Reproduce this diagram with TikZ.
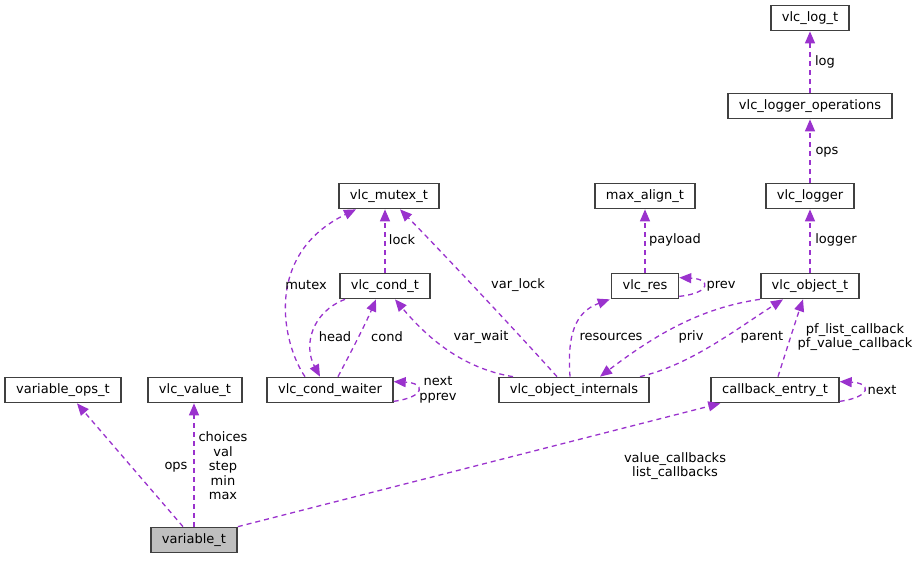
\documentclass[tikz,border=0pt]{standalone}
\usepackage{fontspec}
\setmainfont{DejaVu Sans}
\usetikzlibrary{arrows.meta}
\definecolor{edgecol}{HTML}{9A32CD}
\definecolor{boxline}{HTML}{404040}

\begin{document}
\begin{tikzpicture}[
		x=1pt, y=-1pt,
		font=\fontsize{13}{15}\selectfont,
		cls/.style = {
			rectangle,
			draw=boxline,
			line width=1.7pt,
			minimum height=25pt,
			inner xsep=11pt,
			inner ysep=0pt
		},
		edge/.style = {
			draw=edgecol,
			line width=1.3pt,
			dash pattern=on 5pt off 4pt,
			-{Triangle[length=12pt,width=10pt]}
		},
		lbl/.style = {
			align=center,
			inner sep=0pt,
			font=\fontsize{13}{14.5}\selectfont
		}
	]
	\useasboundingbox (0,0) rectangle (920,560);

	% classes
	\node[cls] (LOGT)    at (810,18)  {vlc\_log\_t};
	\node[cls] (LOGOPS)  at (810,106) {vlc\_logger\_operations};
	\node[cls] (LOGGER)  at (810,196) {vlc\_logger};
	\node[cls] (OBJ)     at (810,286) {vlc\_object\_t};
	\node[cls] (MAXAL)   at (645,196) {max\_align\_t};
	\node[cls] (RES)     at (645,286) {vlc\_res};
	\node[cls] (MUTEX)   at (389,196) {vlc\_mutex\_t};
	\node[cls] (COND)    at (385,286) {vlc\_cond\_t};
	\node[cls] (WAITER)  at (330,390) {vlc\_cond\_waiter};
	\node[cls] (INTERN)  at (574,390) {vlc\_object\_internals};
	\node[cls] (CBENTRY) at (775,390) {callback\_entry\_t};
	\node[cls] (VAROPS)  at (63,390)  {variable\_ops\_t};
	\node[cls] (VALUE)   at (195,390) {vlc\_value\_t};
	\node[cls, fill=gray!50] (VAR) at (194,540) {variable\_t};

	% logger chain
	\draw[edge] (LOGOPS.north) -- (LOGT.south);
	\draw[edge] (LOGGER.north) -- (LOGOPS.south);
	\draw[edge] (OBJ.north) -- (LOGGER.south);
	\draw[edge] (RES.north) -- (MAXAL.south);
	\draw[edge] ([yshift=3pt]RES.south east)
		.. controls ([xshift=32pt,yshift=-7pt]RES.east) and ([xshift=32pt,yshift=7pt]RES.east)
		.. ([yshift=-5pt]RES.north east);

	% mutex / cond
	\draw[edge] (COND.north) -- (COND.north |- MUTEX.south);
	\draw[edge] ([xshift=-25pt]WAITER.north)
		.. controls (283,345) and (262,255) .. ([xshift=-33pt]MUTEX.south);
	\draw[edge] ([xshift=-40pt]COND.south)
		.. controls (312,312) and (303,345) .. ([xshift=-10pt]WAITER.north);
	\draw[edge] ([xshift=8pt]WAITER.north)
		.. controls (352,350) and (365,325) .. ([xshift=-9pt]COND.south);
	\draw[edge] ([yshift=2pt]WAITER.south east)
		.. controls ([xshift=32pt,yshift=-7pt]WAITER.east) and ([xshift=32pt,yshift=7pt]WAITER.east)
		.. ([yshift=-5pt]WAITER.north east);

	% object internals
	\draw[edge] ([xshift=-61pt]INTERN.north)
		.. controls (460,368) and (425,335) .. ([xshift=10pt]COND.south);
	\draw[edge] ([xshift=-17pt]INTERN.north)
		.. controls (515,330) and (440,250) .. ([xshift=11pt]MUTEX.south);
	\draw[edge] ([xshift=-4pt]INTERN.north)
		.. controls (567,335) and (575,312) .. ([xshift=-1pt]RES.south west);
	\draw[edge] (OBJ.south west)
		.. controls (700,308) and (655,335) .. ([xshift=26pt]INTERN.north);
	\draw[edge] ([xshift=66pt]INTERN.north)
		.. controls (690,365) and (735,330) .. ([xshift=-27pt]OBJ.south);

	% callbacks
	\draw[edge] ([xshift=3pt]CBENTRY.north)
		.. controls (788,345) and (796,320) .. ([xshift=-7pt]OBJ.south);
	\draw[edge] ([yshift=2pt]CBENTRY.south east)
		.. controls ([xshift=32pt,yshift=-7pt]CBENTRY.east) and ([xshift=32pt,yshift=7pt]CBENTRY.east)
		.. ([yshift=-5pt]CBENTRY.north east);

	% variable
	\draw[edge] (VAR.north east) -- ([xshift=10pt]CBENTRY.south west);
	\draw[edge] ([xshift=-11pt]VAR.north) -- ([xshift=14pt]VAROPS.south);
	\draw[edge] (VAR.north) -- (VAR.north |- VALUE.south);

	% labels
	\node[lbl] (LLOG)     at (825,62)  {log};
	\node[lbl] (LOPS)     at (827,152) {ops};
	\node[lbl] (LLOGGER)  at (836,240) {logger};
	\node[lbl] (LPAYLOAD) at (675,240) {payload};
	\node[lbl] (LPREV)    at (721,286) {prev};
	\node[lbl] (LLOCK)    at (402,240) {lock};
	\node[lbl] (LMUTEX)   at (306,285) {mutex};
	\node[lbl] (LHEAD)    at (335,337) {head};
	\node[lbl] (LCOND)    at (387,337) {cond};
	\node[lbl] (LWNEXT)   at (438,390) {next\\pprev};
	\node[lbl] (LVARWAIT) at (481,337) {var\_wait};
	\node[lbl] (LVARLOCK) at (518,285) {var\_lock};
	\node[lbl] (LRES)     at (611,337) {resources};
	\node[lbl] (LPRIV)    at (691,337) {priv};
	\node[lbl] (LPARENT)  at (762,337) {parent};
	\node[lbl] (LPF)      at (855,337) {pf\_list\_callback\\pf\_value\_callback};
	\node[lbl] (LCBNEXT)  at (882,390) {next};
	\node[lbl] (LCALLB)   at (675,466) {value\_callbacks\\list\_callbacks};
	\node[lbl] (LVOPS)    at (176,467) {ops};
	\node[lbl] (LVAL)     at (223,466) {choices\\val\\step\\min\\max};
\end{tikzpicture}
\end{document}
